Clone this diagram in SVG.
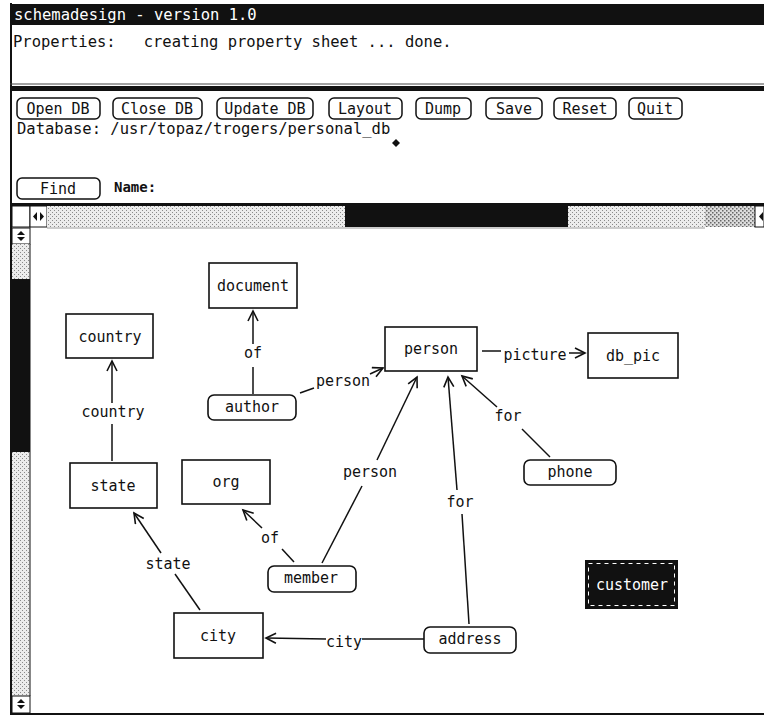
<svg xmlns="http://www.w3.org/2000/svg" width="764" height="716" viewBox="0 0 764 716">
<defs>
<style>
.t{font-family:"DejaVu Sans Mono","Liberation Mono",monospace;font-size:15.5px;fill:#111}
.n{font-family:"DejaVu Sans Mono","Liberation Mono",monospace;font-size:15px;fill:#111;text-anchor:middle}
.box{fill:#fff;stroke:#111;stroke-width:1.6}
.btn{fill:#fff;stroke:#111;stroke-width:1.5}
.e{stroke:#111;stroke-width:1.5;fill:none}
.ea{stroke:#111;stroke-width:1.5;fill:none;marker-end:url(#arr)}
</style>
<marker id="arr" markerUnits="userSpaceOnUse" markerWidth="14" markerHeight="14" refX="11" refY="6" orient="auto">
<path d="M1,1 L11,6 L1,11" fill="none" stroke="#111" stroke-width="1.6"/>
</marker>
<pattern id="stip" width="4" height="4" patternUnits="userSpaceOnUse">
<rect width="4" height="4" fill="#ececec"/>
<rect x="0" y="0" width="1" height="1" fill="#8a8a8a"/>
<rect x="2" y="2" width="1" height="1" fill="#8a8a8a"/>
</pattern>
<pattern id="stip2" width="4" height="4" patternUnits="userSpaceOnUse">
<rect width="4" height="4" fill="#dcdcdc"/>
<rect x="0" y="0" width="1.5" height="1.5" fill="#666"/>
<rect x="2" y="2" width="1.5" height="1.5" fill="#666"/>
</pattern>
</defs>
<rect width="764" height="716" fill="#fff"/>

<g id="window-chrome">
<rect x="10" y="4" width="754" height="21" fill="#111"/>
<text class="t" x="14" y="20" style="fill:#fff">schemadesign - version 1.0</text>
<line x1="11" y1="3" x2="11" y2="714" stroke="#111" stroke-width="2"/>
<text class="t" x="13" y="47" xml:space="preserve">Properties:   creating property sheet ... done.</text>
<line x1="10" y1="84" x2="764" y2="84" stroke="#444" stroke-width="1"/>
<rect x="10" y="86" width="754" height="5" fill="#111"/>
</g>

<g id="buttons">
<rect class="btn" x="17" y="98" width="83" height="21" rx="5"/><text class="n" x="58" y="114">Open DB</text>
<rect class="btn" x="113" y="98" width="89" height="21" rx="5"/><text class="n" x="157" y="114">Close DB</text>
<rect class="btn" x="217" y="98" width="96" height="21" rx="5"/><text class="n" x="265" y="114">Update DB</text>
<rect class="btn" x="329" y="98" width="73" height="21" rx="5"/><text class="n" x="365" y="114">Layout</text>
<rect class="btn" x="416" y="98" width="55" height="21" rx="5"/><text class="n" x="443" y="114">Dump</text>
<rect class="btn" x="486" y="98" width="56" height="21" rx="5"/><text class="n" x="514" y="114">Save</text>
<rect class="btn" x="554" y="98" width="62" height="21" rx="5"/><text class="n" x="585" y="114">Reset</text>
<rect class="btn" x="629" y="98" width="53" height="21" rx="5"/><text class="n" x="655" y="114">Quit</text>
<text class="t" x="17" y="134">Database: /usr/topaz/trogers/personal_db</text>
<path d="M396,139 L400,143 L396,147 L392,143 Z" fill="#111"/>
<rect class="btn" x="17" y="178" width="83" height="21" rx="5"/><text class="n" x="58" y="194">Find</text>
<text class="t" x="114" y="192" style="font-weight:bold;font-size:14px">Name:</text>
</g>

<g id="scrollbars">
<rect x="10" y="203" width="754" height="3" fill="#111"/>
<rect x="12" y="206" width="18" height="21" fill="#fff" stroke="#111" stroke-width="1"/>
<rect x="30" y="206" width="17" height="21" fill="#fff" stroke="#111" stroke-width="1"/>
<path d="M37,212 L33,216.5 L37,221 Z M40,212 L44,216.5 L40,221 Z" fill="#111"/>
<rect x="47" y="206" width="298" height="21" fill="url(#stip)"/>
<rect x="345" y="206" width="223" height="21" fill="#111"/>
<rect x="568" y="206" width="137" height="21" fill="url(#stip)"/>
<rect x="705" y="206" width="50" height="21" fill="url(#stip2)"/>
<rect x="755" y="206" width="9" height="21" fill="#fff" stroke="#111" stroke-width="1"/>
<path d="M763,212 L759,216.5 L763,221 Z" fill="#111"/>
<line x1="47" y1="228" x2="705" y2="228" stroke="#bbb" stroke-width="1.5"/>
<rect x="12" y="228" width="18" height="16" fill="#fff" stroke="#111" stroke-width="1"/>
<path d="M21,231 L17,235 L25,235 Z M17,237 L25,237 L21,241 Z" fill="#111"/>
<rect x="12" y="244" width="18" height="35" fill="url(#stip)"/>
<rect x="12" y="279" width="18" height="173" fill="#111"/>
<rect x="12" y="452" width="18" height="244" fill="url(#stip)"/>
<line x1="30" y1="244" x2="30" y2="696" stroke="#111" stroke-width="1"/>
<rect x="12" y="696" width="18" height="17" fill="#fff" stroke="#111" stroke-width="1"/>
<path d="M21,699 L17,703 L25,703 Z M17,705 L25,705 L21,709 Z" fill="#111"/>
<line x1="10" y1="714" x2="764" y2="714" stroke="#111" stroke-width="2"/>
</g>

<g id="connectors">
<line class="e" x1="253" y1="394" x2="253" y2="367"/>
<line class="ea" x1="253" y1="344" x2="253" y2="311"/>
<text class="n" x="253" y="358">of</text>

<line class="e" x1="112" y1="461" x2="112" y2="424"/>
<line class="ea" x1="112" y1="403" x2="112" y2="361"/>
<text class="n" x="113" y="417">country</text>

<line class="e" x1="300" y1="393" x2="314" y2="388"/>
<line class="ea" x1="370" y1="374" x2="383" y2="368"/>
<text class="n" x="343" y="386">person</text>

<line class="e" x1="482" y1="351" x2="501" y2="351"/>
<line class="ea" x1="569" y1="353" x2="585" y2="353"/>
<text class="n" x="535" y="360">picture</text>

<line class="e" x1="550" y1="457" x2="522" y2="429"/>
<line class="ea" x1="497" y1="407" x2="462" y2="376"/>
<text class="n" x="508" y="421">for</text>

<line class="e" x1="322" y1="563" x2="362" y2="486"/>
<line class="ea" x1="377" y1="460" x2="417" y2="377"/>
<text class="n" x="370" y="477">person</text>

<line class="e" x1="469" y1="624" x2="462" y2="514"/>
<line class="ea" x1="457" y1="490" x2="448" y2="377"/>
<text class="n" x="460" y="507">for</text>

<line class="e" x1="294" y1="562" x2="282" y2="549"/>
<line class="ea" x1="262" y1="528" x2="243" y2="510"/>
<text class="n" x="270" y="543">of</text>

<line class="e" x1="200" y1="610" x2="175" y2="574"/>
<line class="ea" x1="161" y1="553" x2="134" y2="513"/>
<text class="n" x="168" y="569">state</text>

<line class="e" x1="424" y1="639" x2="362" y2="639"/>
<line class="ea" x1="326" y1="639" x2="266" y2="638"/>
<text class="n" x="344" y="647">city</text>
</g>

<g id="node-document"><rect class="box" x="209" y="263" width="88" height="45"/><text class="n" x="253" y="291">document</text></g>
<g id="node-country"><rect class="box" x="66" y="314" width="87" height="44"/><text class="n" x="110" y="342">country</text></g>
<g id="node-person"><rect class="box" x="385" y="327" width="92" height="44"/><text class="n" x="431" y="354">person</text></g>
<g id="node-db_pic"><rect class="box" x="588" y="333" width="90" height="45"/><text class="n" x="633" y="361">db_pic</text></g>
<g id="node-author"><rect class="box" x="208" y="395" width="88" height="25" rx="6"/><text class="n" x="252" y="412">author</text></g>
<g id="node-state"><rect class="box" x="70" y="463" width="87" height="45"/><text class="n" x="113" y="491">state</text></g>
<g id="node-org"><rect class="box" x="182" y="460" width="88" height="44"/><text class="n" x="226" y="487">org</text></g>
<g id="node-phone"><rect class="box" x="524" y="460" width="92" height="25" rx="6"/><text class="n" x="570" y="477">phone</text></g>
<g id="node-member"><rect class="box" x="268" y="566" width="88" height="26" rx="6"/><text class="n" x="311" y="583">member</text></g>
<g id="node-customer"><rect x="585" y="560" width="93" height="49" fill="#111"/><rect x="588.5" y="563.5" width="86" height="42" fill="none" stroke="#fff" stroke-width="1" stroke-dasharray="4 4"/><text class="n" x="632" y="590" style="fill:#fff">customer</text></g>
<g id="node-city"><rect class="box" x="174" y="613" width="89" height="45"/><text class="n" x="218" y="641">city</text></g>
<g id="node-address"><rect class="box" x="424" y="627" width="92" height="26" rx="6"/><text class="n" x="470" y="644">address</text></g>
</svg>
